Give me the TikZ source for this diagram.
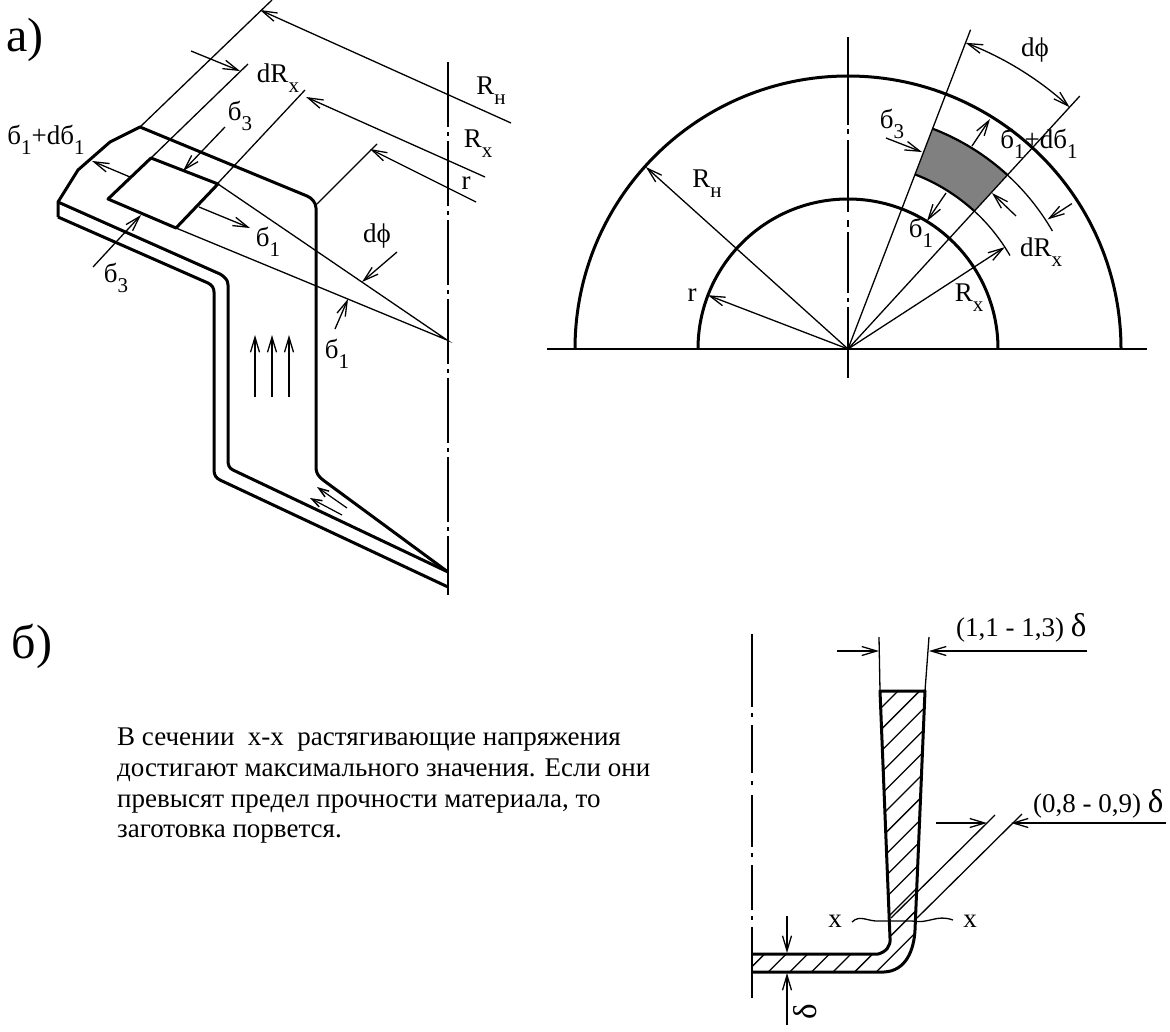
\documentclass[tikz,border=0pt]{standalone}
\usepackage{fontspec}
\setmainfont{Liberation Serif}
\usetikzlibrary{arrows.meta}
\newcommand{\ix}[1]{\raisebox{-0.36em}{\fontsize{21}{21}\selectfont #1}}
\newcommand{\dlt}{{\fontsize{33}{33}\selectfont δ}}
\begin{document}
\begin{tikzpicture}[x=1pt,y=-1pt]
\tikzset{every path/.style={>={Straight Barb[length=15pt,width=9pt,line width=1.3pt]}},
thin line/.style={line width=1.3pt},mid line/.style={line width=2.2pt},
thick line/.style={line width=3pt,line join=round},
axis line/.style={line width=2.2pt,dash pattern=on 65pt off 5pt on 4pt off 5pt},
small arrow/.style={line width=1.2pt,-{Straight Barb[length=10pt,width=7pt,line width=1.5pt]}},
lab/.style={font=\fontsize{27}{27}\selectfont,inner sep=0pt},
big/.style={font=\fontsize{48}{48}\selectfont,inner sep=0pt}}
\useasboundingbox (0,0) rectangle (1170,1031);
\fill[white] (0,0) rectangle (1170,1031);
\node[big] at (25,40) (PARTA) {а)};
\node[big] at (32,646) (PARTB) {б)};
% blank
\draw[axis line] (448,62) -- (448,595);
\draw[thick line] (58,217) -- (58,202) -- (78,170) -- (110,142) -- (140,127) -- (307,196)
  .. controls (312,198) and (316,203) .. (316,208) -- (316,468)
  .. controls (316,473) and (319,477) .. (323,480) -- (448,572);
\draw[thick line] (58,202) -- (220,274) .. controls (225,277) and (228,280) .. (228,285) -- (228,460)
  .. controls (228,465) and (229,468) .. (233,470) -- (448,572);
\draw[thick line] (58,217) -- (208,283) .. controls (212,285) and (214,288) .. (214,292) -- (214,470)
  .. controls (214,475) and (216,478) .. (220,480) -- (448,587);
\draw[thick line] (108,199) -- (151,158) -- (218,184) -- (176,228) -- cycle;
\draw[thin line] (272,0) -- (140,127) (248,64) -- (151,158) (305,90) -- (176,228) (377,144) -- (317,204);
\draw[thin line] (218,184) -- (447,340) -- (176,228);
\draw[thin line,->] (511,123) -- (260,10);
\draw[thin line,->] (485,177) -- (306,97);
\draw[thin line,->] (476,202) -- (370,149);
\draw[thin line,->] (191,51) -- (240,71);
\draw[thin line,->] (225,127) -- (183,171);
\draw[thin line,->] (93,267) -- (141,215);
\draw[thin line,->] (130,177) -- (92,161);
\draw[thin line,->] (199,207) -- (250,228);
\draw[thin line,->] (397,252) -- (362,282);
\draw[thin line,->] (335,329) -- (348,299);
\foreach \xa in {255,272,289}
  \draw[thin line,->] (\xa,397) -- (\xa,335);
\draw[small arrow] (347,508) -- (317,487);
\draw[small arrow] (342,515) -- (310,498);
\node[lab] at (278,78) (DRXA) {dR\ix{x}};
\node[lab] at (240,116) (SZTA) {б\ix{3}};
\node[lab] at (46,140) (SPLA) {б\ix{1}+dб\ix{1}};
\node[lab] at (268,242) (SOTA) {б\ix{1}};
\node[lab] at (116,278) (SZTB) {б\ix{3}};
\node[lab] at (337,354) (SOTB) {б\ix{1}};
\node[lab] at (377,236) (DPHA) {dϕ};
\node[lab] at (491,91) (RHA) {R\ix{н}};
\node[lab] at (478,144) (RXA) {R\ix{x}};
\node[lab] at (466,183) (RA) {r};
% plan
\draw[mid line] (547,349) -- (1147,349);
\foreach \ya/\yb in {37/125,129/134,140/212,220/227,232/293,298/302,307/378}
  \draw[mid line] (848,\ya) -- (848,\yb);
\begin{scope}[shift={(848,349)},y=1pt]
\fill[black!50] (69:187) arc[start angle=69,end angle=47.5,radius=187] -- (47.5:236)
  arc[start angle=47.5,end angle=69,radius=236] -- cycle;
\draw[thick line] (180:273) arc[start angle=180,end angle=0,radius=273];
\draw[thick line] (180:150) arc[start angle=180,end angle=0,radius=150];
\draw[mid line] (69:187) arc[start angle=69,end angle=47.5,radius=187];
\draw[mid line] (69:236) arc[start angle=69,end angle=47.5,radius=236];
\draw[thin line] (47.5:187) arc[start angle=47.5,end angle=30,radius=187];
\draw[thin line] (47.5:236) arc[start angle=47.5,end angle=30,radius=236];
\draw[thin line] (0,0) -- (69:342);
\draw[thin line] (0,0) -- (47.5:343);
\draw[thin line,<->] (69:328) arc[start angle=69,end angle=47.5,radius=328];
\draw[thin line,->] (0,0) -- (138:272);
\draw[thin line,->] (0,0) -- (159:150);
\draw[thin line,->] (0,0) -- (33:187);
\draw[thin line,->] (33:267) -- (33:238);
\end{scope}
\draw[thin line,->] (886,138) -- (922,152);
\draw[thin line,->] (972,146) -- (990,119);
\draw[thin line,->] (946,193) -- (927,221);
\draw[thin line,->] (1016,216) -- (992,193);
\node[lab] at (1035,50) (DPHB) {dϕ};
\node[lab] at (707,184) (RHB) {R\ix{н}};
\node[lab] at (692,295) (RB) {r};
\node[lab] at (969,298) (RXB) {R\ix{x}};
\node[lab] at (1041,252) (DRXB) {dR\ix{x}};
\node[lab] at (921,233) (SOTC) {б\ix{1}};
\node[lab] at (892,124) (SZTC) {б\ix{3}};
\node[lab] at (1039,144) (SPLB) {б\ix{1}+dб\ix{1}};
% text
\node[font=\fontsize{27}{30.7}\selectfont,align=left,anchor=north west,inner sep=0pt] at (117,728) (NOTE)
  {В сечении\ \ х-х\ \ растягивающие напряжения\\достигают максимального значения. Если они\\превысят предел прочности материала, то\\заготовка порвется.};
% section
\foreach \ya/\yb in {634/707,713/717,725/773,781/785,795/847,853/857,865/910,916/920,927/998}
  \draw[mid line] (752,\ya) -- (752,\yb);
\begin{scope}
\clip (880,691) -- (925,691) -- (915,930) .. controls (914,950) and (906,971) .. (884,972) -- (753,972) -- (753,954)
  -- (878,954) .. controls (886,952) and (891,946) .. (890,938) -- cycle;
\foreach \k in {0,...,13}
  \draw[thin line] ({1589+21.6*\k-500},500) -- ({1589+21.6*\k-1100},1100);
\end{scope}
\draw[thick line] (890,938) -- (880,691) -- (925,691) -- (915,930) .. controls (914,950) and (906,971) .. (884,972) -- (753,972);
\draw[thick line] (753,954) -- (878,954) .. controls (886,952) and (891,946) .. (890,938);
\draw[thin line] (879,637) -- (880,691) (929,637) -- (925,691);
\draw[thin line,->] (837,651) -- (879,651);
\draw[thin line,->] (1087,651) -- (929,651);
\node[lab,anchor=west] at (956,628) (TOPW) {(1,1 - 1,3) \dlt};
\draw[thin line] (995,815) -- (891,918) (1022,814) -- (917,918);
\draw[thin line,->] (936,823) -- (987,823);
\draw[thin line,->] (1166,823) -- (1011,823);
\node[lab,anchor=west] at (1033,804) (MIDW) {(0,8 - 0,9) \dlt};
\draw[thin line] (852,922) .. controls (860,914) and (868,922) .. (880,921) -- (912,921)
  .. controls (930,924) and (936,914) .. (953,920);
\node[lab] at (835,921) (XL) {х};
\node[lab] at (970,921) (XR) {х};
\draw[thin line,->] (787,916) -- (787,953);
\draw[thin line,->] (787,1025) -- (787,973);
\node[lab,rotate=90] at (805,1012) (DELT) {\dlt};
\end{tikzpicture}
\end{document}
